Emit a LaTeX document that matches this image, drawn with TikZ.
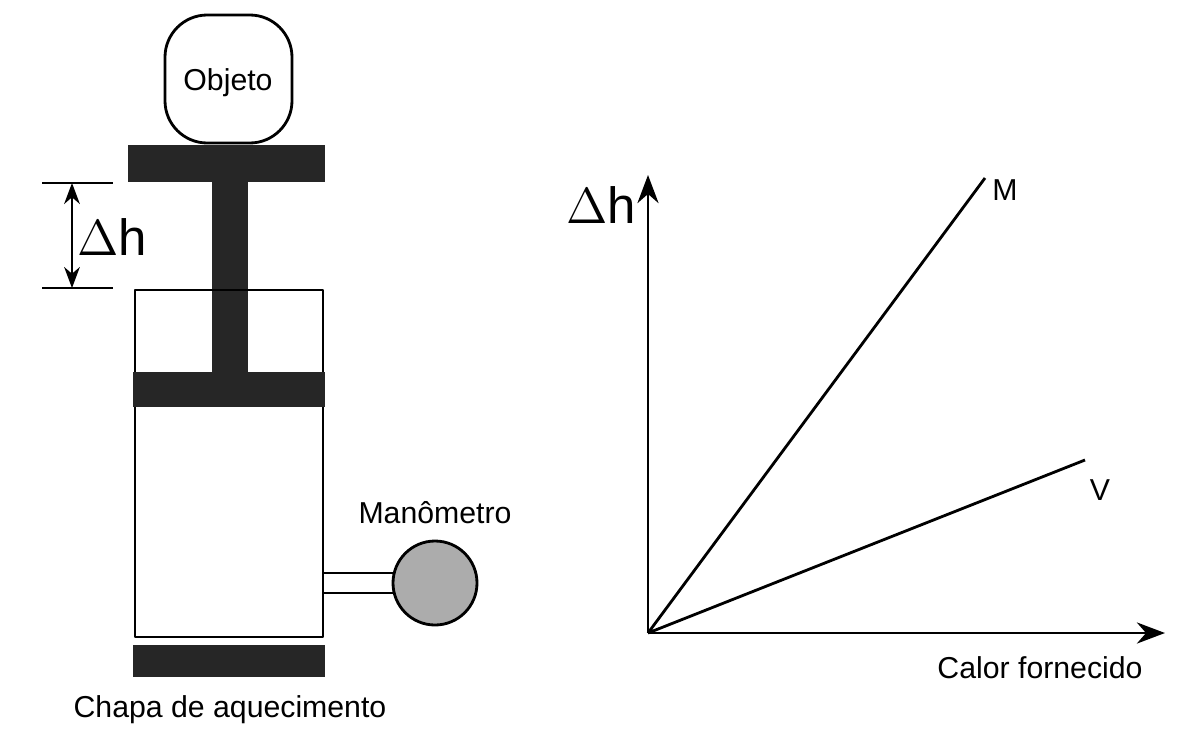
\documentclass[tikz,border=0pt]{standalone}
\usepackage{fontspec}
\setmainfont{Liberation Sans}
\usetikzlibrary{arrows.meta}
\begin{document}
\begin{tikzpicture}[x=0.01cm,y=-0.01cm,line join=round,
  bar/.style={fill=black!85,draw=none},
  lbl/.style={font=\fontsize{8.6}{10}\selectfont},
  big/.style={font=\fontsize{14.5}{17}\selectfont}]
		\useasboundingbox (0,0) rectangle (1200,745) ;
		% aparelho
		\draw[thick,rounded corners=12pt] (165,15) rectangle (292,143) ;
		\node[lbl] (obj) at (228,83) {Objeto} ;
		\fill[bar] (128,145) rectangle (325,182) ;
		\fill[bar] (212,182) rectangle (248,372) ;
		\draw[thick] (135,290) rectangle (323,637) ;
		\fill[bar] (133,372) rectangle (325,407) ;
		\fill[bar] (133,645) rectangle (325,677) ;
		\node[lbl] (chapa) at (230,710) {Chapa de aquecimento} ;
		% cota
		\coordinate (T) at (72,183) ; \coordinate (U) at (72,288) ;
		\draw (42,183) -- (113,183) (42,288) -- (113,288) ;
		\draw[{Stealth[length=6pt]}-{Stealth[length=6pt]}] (T) -- (U) ;
		\node[big] (dh) at (112,237) {$\Delta$h} ;
		% manometro
		\draw[thick] (323,573) -- (395,573) (323,593) -- (395,593) ;
		\filldraw[thick,fill=gray!65] (435,583) circle[radius=42] ;
		\node[lbl] (man) at (435,513) {Manômetro} ;
		% grafico
		\coordinate (O) at (648,633) ; \coordinate (Y) at (648,175) ;
		\coordinate (X) at (1165,633) ;
		\coordinate (M) at (985,178) ; \coordinate (V) at (1085,460) ;
		\draw[thick,-{Stealth[length=8pt]}] (O) -- (Y) ;
		\draw[thick,-{Stealth[length=8pt]}] (O) -- (X) ;
		\draw[thick] (O) -- (M) (O) -- (V) ;
		\node[big] (dhy) at (601,205) {$\Delta$h} ;
		\node[lbl] (lm) at (1005,190) {M} ;
		\node[lbl] (lv) at (1100,490) {V} ;
		\node[lbl] (cal) at (1040,668) {Calor fornecido} ;
	\end{tikzpicture}
\end{document}
